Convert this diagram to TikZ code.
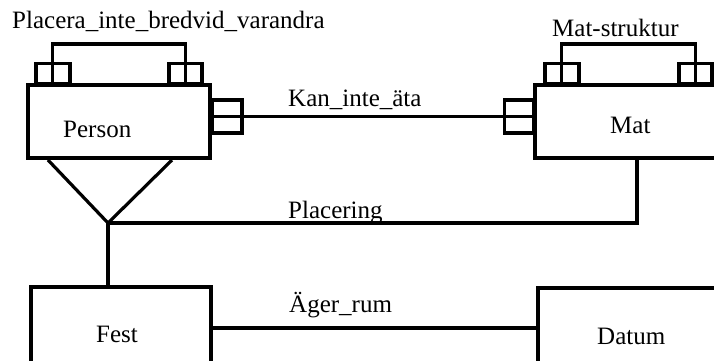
\documentclass[tikz,border=0pt]{standalone}
\usepackage{fontspec}
\setmainfont{Liberation Serif}

\begin{document}
\begin{tikzpicture}[x=1pt,y=-1pt,
	entity/.style={draw,line width=4pt,rectangle,inner sep=0pt},
	keybox/.style={draw,line width=3.5pt,rectangle,inner sep=0pt,minimum height=20pt},
	conn/.style={line width=3.2pt},
	txt/.style={font=\fontsize{25}{30}\selectfont,inner sep=0pt,anchor=base west}]
	\useasboundingbox (0,0) rectangle (714,360);
	\clip (0,0) rectangle (714,360);

	\node [entity, minimum width=182pt, minimum height=73pt] (person) at (119,121.5) {};
	\node [entity, minimum width=204pt, minimum height=73pt] (mat) at (637,121.5) {};
	\node [entity, minimum width=180pt, minimum height=82pt] (fest) at (121,328) {};
	\node [entity, minimum width=188pt, minimum height=98pt] (datum) at (632,337) {};

	\node [keybox, anchor=south west, minimum width=34pt] (pkeyl) at (34,85) {};
	\node [keybox, anchor=south west, minimum width=33pt] (pkeyr) at (167,85) {};
	\node [keybox, anchor=west, minimum width=30pt, minimum height=33pt] (pside) at (210,116.5) {};
	\node [keybox, anchor=east, minimum width=29pt, minimum height=33pt] (mside) at (535,116.5) {};
	\node [keybox, anchor=south west, minimum width=34pt] (mkeyl) at (543,85) {};
	\node [keybox, anchor=south west, minimum width=33pt] (mkeyr) at (677,85) {};

	\coordinate (fork) at (108,223);
	\coordinate (footl) at (48,160);
	\coordinate (footr) at (172,160);

	\node [txt] (persontxt) at (63,137) {Person};
	\node [txt] (mattxt) at (610,133) {Mat};
	\node [txt] (festtxt) at (96,342) {Fest};
	\node [txt] (datumtxt) at (597,344) {Datum};
	\node [txt] (placera) at (12,28) {Placera\_inte\_bredvid\_varandra};
	\node [txt] (matstruktur) at (552,36.5) {Mat-struktur};
	\node [txt] (kaninte) at (288,106) {Kan\_inte\_äta};
	\node [txt] (placering) at (288,218) {Placering};
	\node [txt] (agerrum) at (289,312) {Äger\_rum};

	\draw [conn] (pkeyl.south) -- ++(0,-41) -| (pkeyr.south);
	\draw [conn] (mkeyl.south) -- ++(0,-41) -| (mkeyr.south);
	\draw [conn] (pside.west) -- (mside.east);
	\draw [conn] (footl) -- (fork) -- (footr);
	\draw [conn] (fork) -| (mat.south);
	\draw [conn] (fork) -- (fork |- fest.north);
	\draw [conn] (fest.east) -- (fest.east -| datum.west);
\end{tikzpicture}
\end{document}
